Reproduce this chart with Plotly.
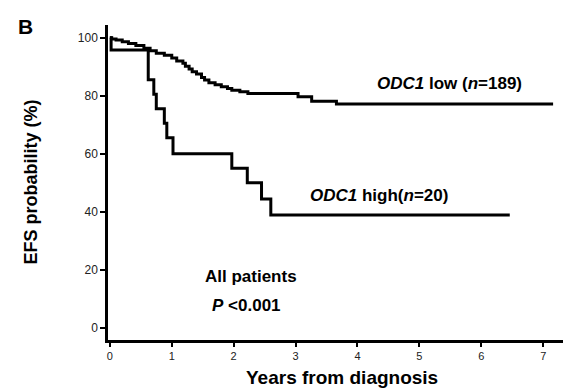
import plotly.graph_objects as go

# Kaplan-Meier step data (years, EFS %)
low_t = [0, 0.03, 0.10, 0.20, 0.30, 0.42, 0.55, 0.65, 0.75, 0.88, 1.00, 1.08, 1.18, 1.22,
         1.28, 1.33, 1.40, 1.48, 1.53, 1.60, 1.70, 1.80, 1.90, 1.97, 2.10, 2.23, 3.04,
         3.26, 3.66, 7.16]
low_s = [100, 99.6, 99.2, 98.6, 98.0, 97.3, 96.4, 95.5, 94.7, 94.0, 93.0, 92.0, 91.2, 90.2,
         89.2, 88.3, 87.5, 86.3, 85.4, 84.5, 83.8, 83.1, 82.5, 81.9, 81.4, 80.8, 79.7,
         78.1, 77.2, 77.2]

high_t = [0, 0.02, 0.62, 0.71, 0.75, 0.88, 0.92, 1.02, 1.97, 2.22, 2.45, 2.60, 6.46]
high_s = [100, 95.8, 85.5, 80.5, 75.5, 70.5, 65.5, 60.0, 55.0, 50.0, 44.4, 38.9, 38.9]

x_ticks = [0, 1, 2, 3, 4, 5, 6, 7]
y_ticks = [0, 20, 40, 60, 80, 100]

FONT = "Arial, Liberation Sans, sans-serif"

fig = go.Figure()
fig.add_trace(go.Scatter(x=low_t, y=low_s, mode="lines", line=dict(shape="hv", color="black", width=3),
                         showlegend=False, hoverinfo="skip"))
fig.add_trace(go.Scatter(x=high_t, y=high_s, mode="lines", line=dict(shape="hv", color="black", width=3),
                         showlegend=False, hoverinfo="skip"))

ann = [
    dict(x=5.48, y=84.4, xref="x", yref="y", text="<b><i>ODC1</i> low (<i>n</i>=189)</b>",
         font=dict(size=17, color="black", family=FONT), showarrow=False),
    dict(x=4.35, y=45.7, xref="x", yref="y", text="<b><i>ODC1</i> high(<i>n</i>=20)</b>",
         font=dict(size=17, color="black", family=FONT), showarrow=False),
    dict(x=2.28, y=17.8, xref="x", yref="y", text="<b>All patients</b>",
         font=dict(size=17, color="black", family=FONT), showarrow=False),
    dict(x=2.2, y=7.8, xref="x", yref="y", text="<b><i>P</i> <0.001</b>",
         font=dict(size=17, color="black", family=FONT), showarrow=False),
    dict(x=0, y=0.5, xref="paper", yref="paper", xshift=-78, xanchor="center", yanchor="middle",
         text="<b>EFS probability (%)</b>", textangle=-90,
         font=dict(size=18, color="black", family=FONT), showarrow=False),
    dict(x=0.5, y=0, xref="paper", yref="paper", xshift=6, yshift=-37, xanchor="center", yanchor="middle",
         text="<b>Years from diagnosis</b>",
         font=dict(size=19, color="black", family=FONT), showarrow=False),
    dict(x=0, y=1, xref="paper", yref="paper", xshift=-82.5, yshift=-1, xanchor="center", yanchor="middle",
         text="<b>B</b>", font=dict(size=21, color="black", family=FONT), showarrow=False),
]

fig.update_layout(
    width=586, height=392,
    margin=dict(l=108, r=23, t=25, b=52),
    paper_bgcolor="white", plot_bgcolor="white",
    annotations=ann,
    font=dict(family=FONT, color="#222"),
)
fig.update_xaxes(range=[-0.03, 7.32], tickvals=x_ticks, ticks="outside", ticklen=4, tickwidth=2,
                 tickcolor="black", showline=True, linecolor="black", linewidth=2.5, showgrid=False,
                 zeroline=False, tickfont=dict(size=11, family=FONT, color="#222"))
fig.update_yaxes(range=[-4.2, 104.4], tickvals=y_ticks, ticks="outside", ticklen=5, tickwidth=2,
                 tickcolor="black", showline=True, linecolor="black", linewidth=2.5, showgrid=False,
                 zeroline=False, tickfont=dict(size=12, family=FONT, color="#222"))

fig.write_html("out.html", config={"displayModeBar": False},
               post_script="document.body.style.margin='0';document.body.style.padding='0';")
